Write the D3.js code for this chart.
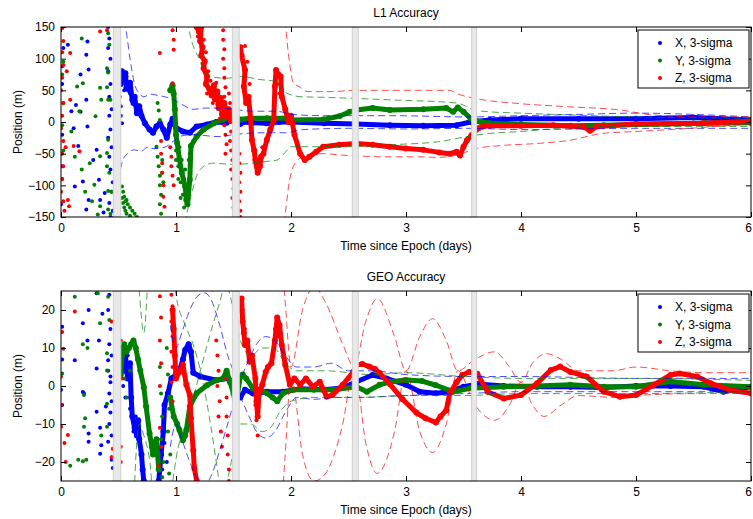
<!DOCTYPE html>
<html>
<head>
<meta charset="utf-8">
<script src="https://cdn.jsdelivr.net/npm/d3@7"></script>
<style>
  body { margin: 0; background: #fff; }
  text { font-family: "Liberation Sans", Arial, sans-serif; font-size: 12px; fill: #000; }
</style>
</head>
<body>
<script>
// ---- data (t in days, value in metres) ----
const xTicks = [0, 1, 2, 3, 4, 5, 6];
const l1Ticks = [-150, -100, -50, 0, 50, 100, 150];
const geoTicks = [-20, -10, 0, 10, 20];
const legendNames = ["X, 3-sigma", "Y, 3-sigma", "Z, 3-sigma"];
const bandStart = [0.455, 1.49, 2.533, 3.571];
const bandEnd = [0.52, 1.55, 2.585, 3.614];

// L1 accuracy
const l1XDots = [[0.02,117],[0.01,88],[0.01,60],[0.01,-20],[0.01,-70],[0.0,-130],[0.17,75],[0.22,106],[0.23,127],[0.24,83],[0.22,35],[0.09,17],[0.17,16],[0.23,-7],[0.15,-38],[0.12,-102],[0.19,-94],[0.22,-138],[0.24,-123],[0.31,-44],[0.33,-91],[0.34,-123],[0.38,-112],[0.37,-143],[0.28,-60],[0.06,122],[0.11,-10],[0.13,27],
  [0.41,150],[0.42,132],[0.41,117],[0.43,100],[0.41,80],[0.43,60],[0.42,40],[0.44,20],[0.42,10],[0.43,-12],[0.41,-25],[0.44,-40],[0.42,-55],[0.43,-75],[0.45,-95],[0.44,-110],[0.42,-128],[0.45,-140],[0.43,-150],
  [0.51,40],[0.52,25],[0.52,10],[0.53,-2],[0.54,65],[0.55,50],[0.57,72],[0.6,45],[0.61,55],[0.65,25],[0.67,20]];
const l1XTrace = [[0.52,60],[0.53,80],[0.55,70],[0.56,77],[0.57,55],[0.59,51],[0.6,62],[0.62,35],[0.63,30],[0.64,40],[0.66,14],[0.68,25],[0.7,10],[0.73,-2],[0.77,-12],[0.8,-17],[0.83,-7],[0.86,-2],[0.89,-12],[0.92,-25],[0.95,-4],[0.97,5],[1.0,-9],[1.06,-15],[1.12,-17],[1.18,-7],[1.27,-4],[1.35,0],[1.44,-1],[1.5,3],[1.56,-3],[1.59,0],[1.67,-1],[1.79,-2],[1.9,0],[2.0,0],[2.29,-2],[2.57,-3],[2.86,-5],[3.15,-6],[3.44,-5],[3.56,0],[3.73,3],[4.0,5],[4.5,5],[5.0,5],[5.5,7],[6.0,3]];
const l1XUp = [[0.55,160],[0.57,140],[0.6,100],[0.64,60],[0.68,45],[0.72,40],[0.78,44],[0.84,42],[0.9,40],[0.98,35],[1.05,28],[1.15,20],[1.25,22],[1.35,22],[1.5,20],[1.67,17],[1.88,17],[2.0,12],[2.3,10],[2.86,10],[3.56,8],[4.0,10],[4.5,12],[5.0,14],[5.5,12],[6.0,8]];
const l1XLo = [[0.44,-160],[0.47,-120],[0.5,-90],[0.54,-59],[0.58,-50],[0.63,-44],[0.7,-46],[0.75,-40],[0.8,-42],[0.9,-40],[0.98,-30],[1.05,-22],[1.14,-20],[1.37,-23],[1.5,-20],[1.72,-17],[1.96,-17],[2.1,-12],[2.5,-10],[3.0,-11],[3.56,-10],[4.0,-12],[5.0,-10],[6.0,-10]];

const l1YDots = [[0.02,95],[0.01,75],[0.02,30],[0.01,-5],[0.02,-45],[0.01,-90],[0.18,132],[0.14,56],[0.19,61],[0.16,17],[0.09,-15],[0.18,-75],[0.25,-65],[0.29,-99],[0.34,54],[0.35,35],[0.3,9],[0.34,-54],[0.34,-133],[0.32,-146],[0.12,-55],[0.21,-110],[0.27,-125],
  [0.41,140],[0.42,122],[0.4,85],[0.41,78],[0.4,55],[0.41,35],[0.43,35],[0.41,-28],[0.4,-49],[0.4,-70],[0.42,-80],[0.41,-109],[0.44,-110],[0.41,-138],[0.43,-145],
  [0.53,-102],[0.54,-110],[0.55,-118],[0.56,-125],[0.57,-123],[0.58,-130],[0.6,-135],[0.62,-140],[0.64,-145],[0.66,-150],[0.53,-120],[0.55,-135],[0.57,-145],[0.6,-148],[0.54,-128],[0.56,-140],
  [0.84,30],[0.85,18],[0.86,3],[0.83,-39],[0.84,-55],[0.85,-70],[0.86,-85],[0.86,-100],[0.87,-115],[0.86,-130],[0.87,-145],[0.88,-80],[0.88,-60],[0.89,-95],
  [1.0,-45],[1.02,-70],[1.04,-95],[1.06,-115],[1.07,-90],[1.05,-60],[1.03,-40],[1.08,-75],[1.1,-110],[1.11,-60],[1.0,-60],[1.02,-90],[1.04,-120],[1.07,-135],[1.12,-50],[1.15,-30]];
const l1YTrace = [[0.95,50],[0.97,58],[0.98,45],[0.99,20],[1.0,-20],[1.01,-33],[1.03,-59],[1.05,-80],[1.08,-102],[1.09,-123],[1.1,-130],[1.12,-91],[1.13,-38],[1.18,-23],[1.24,-12],[1.33,-2],[1.41,4],[1.5,9],[1.53,5],[1.56,4],[1.64,6],[1.79,6],[1.96,6],[2.0,3],[2.28,4],[2.42,9],[2.51,16],[2.57,19],[2.71,22],[2.86,19],[3.15,20],[3.35,22],[3.41,16],[3.45,23],[3.5,16],[3.56,6],[3.65,0],[3.73,-2],[4.0,-4],[4.43,-6],[4.72,-5],[5.0,-4],[5.6,-2],[6.0,-1]];
const l1YUp = [[1.1,160],[1.12,140],[1.16,115],[1.21,98],[1.25,80],[1.29,72],[1.44,69],[1.56,72],[1.73,67],[1.88,64],[1.93,55],[1.96,46],[2.08,40],[2.28,39],[2.86,35],[3.44,30],[3.52,25],[3.59,19],[3.73,16],[4.0,14],[4.43,11],[5.0,8],[6.0,6]];
const l1YLo = [[1.08,-160],[1.1,-140],[1.14,-110],[1.18,-85],[1.21,-75],[1.32,-65],[1.5,-67],[1.67,-65],[1.8,-62],[1.88,-60],[1.95,-48],[2.0,-39],[2.57,-39],[2.86,-36],[3.29,-31],[3.53,-23],[3.73,-18],[4.0,-15],[4.5,-8],[5.0,-7],[6.0,-7]];

const l1ZDots = [[0.01,148],[0.02,128],[0.01,110],[0.02,90],[0.01,70],[0.0,50],[0.02,30],[0.01,10],[0.0,-10],[0.02,-30],[0.01,-50],[0.02,-70],[0.01,-90],[0.0,-110],[0.02,-125],[0.03,-140],
  [0.08,109],[0.05,80],[0.08,35],[0.11,-38],[0.16,-46],[0.06,-123],[0.07,-133],[0.34,143],[0.04,-40],[0.4,145],
  [0.86,109],[0.87,-30],[0.87,-50],[0.88,-65],[0.88,-80],[0.89,-100],[0.89,-118],[0.9,-134],[0.97,145],[0.98,130],[0.98,114],[0.97,61],[0.95,-40],[0.96,-55],[0.96,-70],[0.97,-85],[0.98,-100],
  [1.41,145],[1.41,130],[1.42,115],[1.41,100],[1.42,85],[1.42,70],[1.43,55],[1.42,40],[1.43,25],[1.43,10],[1.42,-5],[1.43,-20],[1.44,-35],[1.43,-50],
  [1.46,45],[1.47,30],[1.46,15],[1.47,0],[1.48,-15],[1.47,-30],[1.48,-45],[1.49,-60],[1.48,-75],[1.49,-90],[1.5,-105],[1.49,-120],[1.5,-135],[1.51,-148],
  [1.55,-50],[1.55,-65],[1.56,-80],[1.55,-95],[1.56,-110],[1.55,-125],[1.56,-140],[1.56,-150],[1.6,120],
  [1.19,135],[1.21,145],[1.24,130],[1.26,110],[1.23,92],[1.28,80],[1.3,65],[1.27,45],[1.32,30],[1.35,62],[1.38,5],[1.36,28],[1.62,95],[1.64,60],[1.67,-40],[1.7,-70],[1.72,-60],[1.75,-40],[1.88,60],[1.9,45]];
const l1ZTrace1 = [[1.18,150],[1.2,142],[1.22,150],[1.21,128],[1.23,118],[1.22,105],[1.25,96],[1.24,85],[1.27,72],[1.26,60],[1.29,52],[1.31,42],[1.33,58],[1.34,36],[1.36,48],[1.37,22],[1.39,38],[1.4,12],[1.42,30],[1.44,8],[1.46,20],[1.48,2]];
const l1ZTrace2 = [[1.56,118],[1.57,105],[1.6,82],[1.59,56],[1.61,30],[1.63,40],[1.65,3],[1.66,-28],[1.68,-45],[1.69,-60],[1.71,-80],[1.73,-70],[1.74,-55],[1.76,-50],[1.79,-28],[1.82,-12],[1.85,3],[1.86,56],[1.87,82],[1.89,75],[1.91,72],[1.92,40],[1.95,20],[1.98,0],[2.0,10],[2.03,-20],[2.08,-50],[2.12,-60],[2.16,-55],[2.22,-47],[2.28,-39],[2.42,-36],[2.57,-34],[2.71,-36],[2.86,-39],[3.0,-42],[3.15,-44],[3.29,-48],[3.38,-50],[3.44,-47],[3.47,-53],[3.5,-39],[3.53,-29],[3.57,-21],[3.63,-10],[3.67,-7],[3.73,-6],[4.0,-6],[4.28,-5],[4.55,-8],[4.6,-14],[4.66,-7],[5.0,-3],[5.58,-2],[6.0,1]];
const l1ZUp = [[1.95,160],[1.97,120],[1.99,90],[2.02,62],[2.08,55],[2.14,48],[2.37,48],[2.54,50],[2.86,50],[3.29,50],[3.38,50],[3.44,45],[3.61,37],[3.99,29],[4.42,24],[4.86,19],[5.15,11],[5.58,8],[6.0,8]];
const l1ZLo = [[1.94,-160],[1.96,-130],[1.98,-100],[2.01,-75],[2.05,-62],[2.1,-55],[2.28,-50],[2.42,-52],[2.86,-55],[3.15,-55],[3.27,-56],[3.45,-52],[3.61,-42],[3.84,-37],[4.13,-34],[4.42,-29],[4.71,-18],[5.0,-15],[5.29,-12],[6.0,-3]];

// GEO accuracy
const geoXDots = [[0.01,15.6],[0.0,-1],[0.01,-5],[0.01,7],[0.12,6.8],[0.19,-1.6],[0.24,20],[0.19,16.5],[0.23,12],[0.24,-14.7],[0.31,24.4],[0.31,4.6],[0.34,-11],[0.35,-15.6],[0.34,-17.8],[0.41,6.8],[0.43,2.5],[0.39,-5.4],[0.44,-19.4],[0.45,-21.6],[0.2,-2],[0.33,12],[0.36,19],[0.31,-6.8],[0.24,-12.5],
  [0.42,24],[0.41,20],[0.43,15],[0.42,11],[0.44,8],[0.41,4],[0.43,1],[0.42,-2],[0.44,-4],[0.43,-7],[0.42,-10],[0.44,-13],[0.41,-14.7],
  [0.54,0],[0.56,-3],[0.58,8],[0.6,-6],[0.63,-12],[0.65,-8],[0.9,-15],[0.92,-20],[0.88,-22]];
const geoXTrace1 = [[0.52,6],[0.53,10],[0.55,4],[0.56,8],[0.58,2],[0.6,6],[0.61,-3],[0.62,-8],[0.64,-11],[0.66,-13],[0.67,-9],[0.68,-14],[0.7,-18],[0.71,-22],[0.72,-25]];
const geoXTrace2 = [[0.85,-25],[0.87,-18],[0.89,-12],[0.9,-5],[0.93,-2],[0.96,2],[1.0,3],[1.03,4],[1.06,7],[1.08,9.5],[1.11,11],[1.13,9],[1.15,3.5],[1.21,2.5],[1.35,1.5],[1.45,2],[1.5,1],[1.53,-2],[1.56,-3],[1.6,-1],[1.67,-2],[1.79,-1.5],[1.93,-1.5],[2.08,-0.7],[2.28,-1],[2.45,-0.5],[2.57,1.1],[2.71,2.9],[2.83,2],[3.0,0.3],[3.12,-1.5],[3.26,-1.9],[3.38,-1.5],[3.5,-0.2],[3.62,0.5],[3.85,0],[4.14,-0.2],[4.43,-0.2],[4.72,-0.4],[5.0,0],[5.3,0],[5.59,-0.2],[5.76,-1.5],[6.0,-0.2]];
const geoXSigA = [[0.95,16],[1.0,10],[1.05,14],[1.12,20],[1.2,24],[1.25,24.5],[1.3,23],[1.38,16],[1.45,8],[1.5,4],[1.55,2],[1.62,6],[1.7,11],[1.78,13],[1.86,12],[1.95,8],[2.05,5],[2.2,5],[2.35,6],[2.5,4],[2.7,4],[3.0,3],[3.5,2.5],[4.0,2.5],[5.0,2],[6.0,2]];
const geoXSigB = [[0.95,-16],[1.0,-10],[1.05,-14],[1.12,-20],[1.2,-25],[1.25,-26],[1.3,-24],[1.38,-17],[1.45,-10],[1.5,-5],[1.55,-3],[1.62,-7],[1.7,-12],[1.78,-13.7],[1.86,-12],[1.95,-7],[2.05,-3],[2.2,-3.5],[2.4,-3],[2.6,-3],[3.0,-2.5],[3.5,-2],[4.0,-1.5],[5.0,-1.5],[6.0,-1.5]];

const geoYDots = [[0.01,3.3],[0.12,23.5],[0.08,-21],[0.15,-19.4],[0.19,-19.8],[0.22,-19.4],[0.19,11],[0.2,-10.7],[0.21,-8.5],[0.2,-2.4],[0.32,24.4],[0.34,16.5],[0.4,8.6],[0.4,4.1],[0.4,-4.7],[0.4,-10.7],[0.41,23.5],[0.42,17.4],[0.23,10],[0.35,-13],
  [0.86,5],[0.87,-2],[0.88,-8],[0.87,-14],[0.89,-20],[0.88,-24],[0.92,10],[0.93,3],[0.94,-6],[0.93,-12],[0.95,-18],[0.94,-23],[0.55,2],[0.57,-3],[0.6,4]];
const geoYTrace1 = [[0.52,3],[0.53,8],[0.55,11],[0.57,9],[0.59,10],[0.61,11],[0.63,12],[0.65,10],[0.67,7],[0.69,4],[0.72,-0.3],[0.74,-5.4],[0.77,-12.5],[0.79,-16],[0.8,-18],[0.82,-15],[0.83,-14],[0.84,-18],[0.85,-22]];
const geoYTrace2 = [[0.95,-3],[0.98,-8],[1.01,-10],[1.03,-11.6],[1.06,-14.3],[1.08,-13],[1.09,-11.6],[1.12,-5.4],[1.18,-1.9],[1.27,0.2],[1.35,1.5],[1.41,2],[1.44,4],[1.47,1],[1.5,-2],[1.52,-5],[1.53,-3],[1.56,2.5],[1.58,3],[1.61,2],[1.67,-0.7],[1.73,-1],[1.79,-1.9],[1.84,-3],[1.88,-4],[1.93,-1.9],[2.02,-1],[2.2,-1],[2.37,-1],[2.57,-0.2],[2.66,-1.5],[2.77,0.3],[2.86,1.1],[3.0,1.6],[3.14,1.3],[3.26,0.2],[3.41,-1.5],[3.56,-0.6],[3.85,-0.2],[4.14,0],[4.43,0.3],[4.72,-0.2],[5.0,-0.2],[5.3,1.2],[5.59,0.3],[6.0,-0.2]];
const geoYSigA = [[0.6,60],[0.68,25],[0.72,14],[0.76,30],[0.82,60],[0.95,40],[1.0,24],[1.08,16],[1.16,10],[1.22,3],[1.3,-10],[1.36,-22],[1.4,-30],[1.48,-20],[1.55,-10],[1.65,-10],[1.75,-12],[1.82,-11],[1.9,-7],[2.0,-4],[2.2,-3],[2.6,-3],[3.0,-2.5],[3.5,-2.5],[4.0,-2],[5.0,-2],[6.0,-1.5]];
const geoYSigB = [[0.6,-60],[0.68,-10],[0.72,-13],[0.78,-22],[0.84,-60],[0.95,-30],[1.02,-16],[1.08,-11],[1.16,-2],[1.22,5],[1.3,14],[1.38,22],[1.43,27],[1.5,20],[1.56,12],[1.65,8],[1.75,10],[1.85,10],[1.95,6],[2.05,4],[2.3,4],[2.7,3],[3.0,3.5],[3.5,2.5],[4.0,2],[5.0,2],[6.0,1.5]];

const geoZDots = [[0.01,14.2],[0.02,9.8],[0.0,2.5],[0.0,-10.7],[0.03,-15],[0.06,-12.9],[0.12,19.6],[0.44,17],[0.45,-16.5],[0.44,-18.7],[0.0,-5],[0.04,-20],
  [0.52,12],[0.52,-16],[0.52,-20],[0.53,2],
  [0.86,23.6],[0.87,18],[0.86,12],[0.87,6],[0.86,0],[0.86,-11],[0.87,-16],[0.85,-21],
  [0.96,24],[0.97,21],[0.96,17],[0.97,13],[0.96,9],[0.97,5],[0.96,1],[0.97,-4],
  [1.35,12],[1.36,8],[1.37,4],[1.36,0],[1.38,-4],[1.37,-8],[1.39,-12],[1.4,-16],
  [1.43,2],[1.44,-3],[1.44,-8],[1.45,-13],[1.45,-18],[1.46,-22],[1.46,-25],
  [1.69,-5],[1.7,-9],[1.71,-13],[1.58,20],[1.6,15],[1.63,9],[1.86,15],[1.89,13]];
const geoZTrace1 = [[0.97,20],[0.98,15],[0.99,8],[1.0,2],[1.03,3.7],[1.06,5.6],[1.09,0.3],[1.12,-2.4],[1.13,-8.5],[1.15,-17],[1.16,-21.7],[1.18,-25]];
const geoZTrace2 = [[1.55,22],[1.56,20],[1.57,23],[1.58,17],[1.59,14],[1.6,10.8],[1.62,12],[1.64,6.4],[1.66,8],[1.69,2],[1.7,-4],[1.71,-8],[1.72,-2.4],[1.75,0.3],[1.78,3.7],[1.8,5],[1.83,6],[1.86,12],[1.88,18],[1.9,16],[1.92,10.8],[1.95,5.6],[1.99,0.3],[2.03,2],[2.08,0.3],[2.13,2],[2.19,-0.2],[2.25,1.1],[2.31,-2.8],[2.36,-2.4],[2.45,0.3],[2.54,3.7],[2.57,5.5],[2.62,5.8],[2.68,5.1],[2.73,4.5],[2.77,3.4],[2.86,0.5],[2.97,-3.5],[3.09,-7],[3.17,-8.5],[3.26,-9.6],[3.3,-8],[3.35,-6.4],[3.38,-2],[3.44,1],[3.49,2.9],[3.55,3.7],[3.62,3.2],[3.71,-1.5],[3.85,-3.3],[4.0,-2.4],[4.14,0.7],[4.26,4.2],[4.34,5.1],[4.43,3.7],[4.57,2.5],[4.72,-1.5],[4.86,-2.8],[5.0,-2.4],[5.15,0.2],[5.3,2.9],[5.38,3.3],[5.53,2.5],[5.65,0.7],[5.82,-1.1],[6.0,-1.9]];
const geoZSigA = [[1.9,40],[1.95,22],[2.0,5],[2.1,20],[2.2,26],[2.3,22],[2.45,11],[2.55,5],[2.65,17],[2.75,23],[2.9,13],[3.0,4],[3.12,13],[3.23,17.7],[3.35,12],[3.45,4],[3.6,7],[3.77,9],[3.9,5],[4.0,1],[4.1,6],[4.22,8.5],[4.35,7],[4.5,4],[4.8,4],[5.0,5],[5.3,4],[5.6,3.5],[6.0,3.5]];
const geoZSigB = [[1.9,-40],[1.95,-18],[2.0,3],[2.1,-18],[2.2,-25],[2.3,-23],[2.45,-10],[2.55,5],[2.65,-15],[2.75,-23],[2.9,-12],[3.0,4],[3.12,-12],[3.23,-17.5],[3.35,-10],[3.45,4],[3.6,-5],[3.77,-9],[3.9,-5],[4.0,1],[4.1,-5],[4.2,-8],[4.35,-5],[4.5,-2.5],[4.8,-3],[5.0,-2.5],[5.5,-2],[6.0,-2]];

// ---- layout ----
const width = 753;
const height = 519;
const colors = ["#0000ff", "#008000", "#ff0000"];

const svg = d3
  .select("body")
  .append("svg")
  .attr("width", width)
  .attr("height", height);

const x = d3.scaleLinear().domain([0, 6]).range([61, 751]);

function drawPanel(p) {
  const y = d3.scaleLinear().domain(p.domain).range([p.bottom, p.top]);
  const g = svg.append("g");
  const clipId = "clip-" + p.id;

  svg
    .append("clipPath")
    .attr("id", clipId)
    .append("rect")
    .attr("x", x(0))
    .attr("y", p.top)
    .attr("width", x(6) - x(0))
    .attr("height", p.bottom - p.top);

  const plot = g.append("g").attr("clip-path", `url(#${clipId})`);
  const line = d3
    .line()
    .x((d) => x(d[0]))
    .y((d) => y(d[1]));

  // dense estimate traces + scattered fixes
  p.series.forEach((s, i) => {
    s.traces.forEach((tr) => {
      plot
        .append("path")
        .datum(tr)
        .attr("d", line)
        .attr("fill", "none")
        .attr("stroke", colors[i])
        .attr("stroke-width", 5)
        .attr("stroke-linejoin", "round")
        .attr("stroke-linecap", "round");
      plot
        .append("g")
        .selectAll("circle")
        .data(tr)
        .join("circle")
        .attr("cx", (d) => x(d[0]))
        .attr("cy", (d) => y(d[1]))
        .attr("r", 3)
        .attr("fill", colors[i]);
    });
    plot
      .append("g")
      .selectAll("circle")
      .data(s.dots)
      .join("circle")
      .attr("cx", (d) => x(d[0]))
      .attr("cy", (d) => y(d[1]))
      .attr("r", 2)
      .attr("fill", colors[i]);
  });

  // 3-sigma bounds
  const sigLine = d3
    .line()
    .curve(d3.curveMonotoneX)
    .x((d) => x(d[0]))
    .y((d) => y(d[1]));
  p.series.forEach((s, i) => {
    [s.up, s.lo].forEach((b) => {
      plot
        .append("path")
        .datum(b)
        .attr("d", sigLine)
        .attr("fill", "none")
        .attr("stroke", colors[i])
        .attr("stroke-opacity", 0.7)
        .attr("stroke-width", 1)
        .attr("stroke-dasharray", "7,4");
    });
  });

  // data gaps
  plot
    .selectAll(".band")
    .data(bandStart)
    .join("rect")
    .attr("class", "band")
    .attr("x", (d) => x(d))
    .attr("y", p.top)
    .attr("width", (d, i) => x(bandEnd[i]) - x(d))
    .attr("height", p.bottom - p.top)
    .attr("fill", "#e8e8e8")
    .attr("stroke", "#cfcfcf")
    .attr("stroke-width", 1);

  // axes, MATLAB style ticks pointing in
  g.append("g")
    .attr("transform", `translate(0,${p.bottom})`)
    .call(d3.axisBottom(x).tickValues(xTicks).tickFormat(d3.format("d")).tickSizeInner(-5).tickSizeOuter(0).tickPadding(6))
    .call((a) => a.select(".domain").remove())
    .call((a) => a.selectAll(".tick:last-of-type text").attr("dx", -3));
  g.append("g")
    .attr("transform", `translate(0,${p.top})`)
    .call(d3.axisTop(x).tickValues(xTicks).tickSizeInner(-5).tickSizeOuter(0).tickFormat(""))
    .call((a) => a.select(".domain").remove());
  g.append("g")
    .attr("transform", `translate(${x(0)},0)`)
    .call(d3.axisLeft(y).tickValues(p.ticks).tickFormat(d3.format("d")).tickSizeInner(-5).tickSizeOuter(0).tickPadding(6))
    .call((a) => a.select(".domain").remove());
  g.append("g")
    .attr("transform", `translate(${x(6)},0)`)
    .call(d3.axisRight(y).tickValues(p.ticks).tickSizeInner(-5).tickSizeOuter(0).tickFormat(""))
    .call((a) => a.select(".domain").remove());
  g.selectAll(".tick text").style("font-size", "12px").style("font-family", "'Liberation Sans', Arial, sans-serif");

  g.append("rect")
    .attr("x", x(0))
    .attr("y", p.top)
    .attr("width", x(6) - x(0))
    .attr("height", p.bottom - p.top)
    .attr("fill", "none")
    .attr("stroke", "#000")
    .attr("stroke-width", 1);

  g.append("text")
    .attr("x", (x(0) + x(6)) / 2)
    .attr("y", p.top - 10)
    .attr("text-anchor", "middle")
    .text(p.title);
  g.append("text")
    .attr("x", (x(0) + x(6)) / 2)
    .attr("y", p.bottom + 33)
    .attr("text-anchor", "middle")
    .text("Time since Epoch (days)");
  g.append("text")
    .attr("transform", `translate(22,${(p.top + p.bottom) / 2}) rotate(-90)`)
    .attr("text-anchor", "middle")
    .text("Position (m)");

  // legend
  const lg = g.append("g").attr("transform", `translate(638,${p.top + 3})`);
  lg.append("rect")
    .attr("width", 111)
    .attr("height", 58)
    .attr("fill", "#fff")
    .attr("stroke", "#000");
  legendNames.forEach((name, i) => {
    lg.append("circle")
      .attr("cx", 22)
      .attr("cy", 13 + i * 17.5)
      .attr("r", 2)
      .attr("fill", colors[i]);
    lg.append("text")
      .attr("x", 37)
      .attr("y", 17 + i * 17.5)
      .text(name);
  });
}

drawPanel({
  id: "l1",
  title: "L1 Accuracy",
  domain: [-150, 150],
  ticks: l1Ticks,
  top: 27,
  bottom: 217,
  series: [
    { dots: l1XDots, traces: [l1XTrace], up: l1XUp, lo: l1XLo },
    { dots: l1YDots, traces: [l1YTrace], up: l1YUp, lo: l1YLo },
    { dots: l1ZDots, traces: [l1ZTrace1, l1ZTrace2], up: l1ZUp, lo: l1ZLo },
  ],
});

drawPanel({
  id: "geo",
  title: "GEO Accuracy",
  domain: [-25, 25],
  ticks: geoTicks,
  top: 291,
  bottom: 481,
  series: [
    { dots: geoXDots, traces: [geoXTrace1, geoXTrace2], up: geoXSigA, lo: geoXSigB },
    { dots: geoYDots, traces: [geoYTrace1, geoYTrace2], up: geoYSigA, lo: geoYSigB },
    { dots: geoZDots, traces: [geoZTrace1, geoZTrace2], up: geoZSigA, lo: geoZSigB },
  ],
});
</script>
</body>
</html>
